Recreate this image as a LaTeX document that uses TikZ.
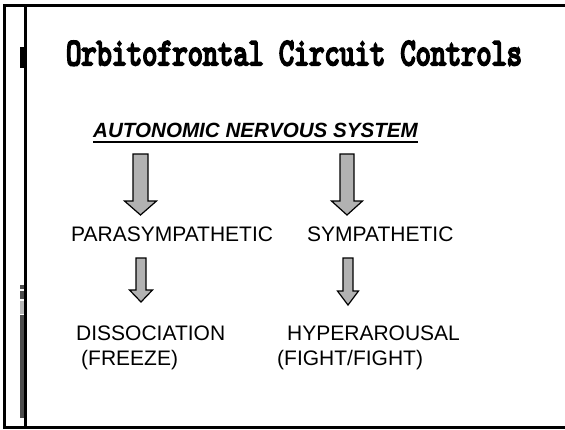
\documentclass[tikz,border=0pt]{standalone}
\usepackage{fontspec}
\setmainfont{Liberation Sans}
\newfontfamily\titlefont[FakeBold=6]{Latin Modern Mono}
\usetikzlibrary{positioning,calc}

% block arrow pointing down: top, tip, shaft half width, head half width, head length
\newcommand{\blockdown}[5]{%
  \draw[block arrow] let \p1=(#1), \p2=(#2) in
    (\x1-#3,\y1) -- (\x1+#3,\y1) -- (\x1+#3,\y2+#5) -- (\x1+#4,\y2+#5)
    -- (\x1,\y2) -- (\x1-#4,\y2+#5) -- (\x1-#3,\y2+#5) -- cycle;}

\begin{document}
\begin{tikzpicture}[x=1pt,y=-1pt,
                    frame/.style={line width=2.7pt},
                    label node/.style={anchor=base west,inner sep=0pt,font=\fontsize{21}{25}\selectfont},
                    block arrow/.style={fill=black!30,draw=black,line width=1.2pt,line join=miter}]
  \useasboundingbox (0,0) rectangle (565,429);
  % frame
  \draw[frame] (565,5.3) -- (4.7,5.3) -- (4.7,427.5) -- (565,427.5);
  \draw[frame] (25.3,5.3) -- (25.3,427.5);
  \fill (20,47) rectangle (26,68);
  \fill[black!70] (20,285) rectangle (24,289);
  \fill[black!70] (20,291) rectangle (24,299);
  \fill[black!28] (20,301) rectangle (24,314);
  \fill[black!70] (20,315) rectangle (24,418);
  % texts
  \node[anchor=base west,inner sep=0pt] (T) at (66,65)
    {\scalebox{1}[1.3]{\fontsize{29.5}{34}\titlefont Orbitofrontal Circuit Controls}};
  \node[anchor=base west,inner sep=0pt,font=\fontsize{20.6}{24}\selectfont\bfseries\itshape] (A) at (93,137)
    {AUTONOMIC NERVOUS SYSTEM};
  \draw[line width=1.6pt] ([yshift=-5pt]A.base west) -- ([yshift=-5pt]A.base east);
  \node[label node] (1) at (71,241) {PARASYMPATHETIC};
  \node[label node] (2) at (307,241) {SYMPATHETIC};
  \node[label node] (3) at (76,340) {DISSOCIATION};
  \node[label node] (4) at (81,365) {(FREEZE)};
  \node[label node] (5) at (287,340) {HYPERAROUSAL};
  \node[label node] (6) at (277,365) {(FIGHT/FIGHT)};
  % arrows
  \coordinate (a1) at (140.5,154);
  \coordinate (b1) at (140.5,215);
  \coordinate (a2) at (347,154);
  \coordinate (b2) at (347,215);
  \coordinate (a3) at (141,258);
  \coordinate (b3) at (141,302);
  \coordinate (a4) at (348,258);
  \coordinate (b4) at (348,305);
  \blockdown{a1}{b1}{7.5pt}{16pt}{14pt}
  \blockdown{a2}{b2}{7pt}{15.5pt}{14pt}
  \blockdown{a3}{b3}{5pt}{11.5pt}{12pt}
  \blockdown{a4}{b4}{5pt}{10.5pt}{14pt}
\end{tikzpicture}
\end{document}
